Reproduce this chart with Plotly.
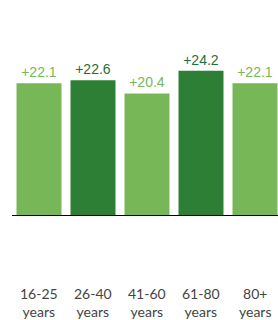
import plotly.graph_objects as go

categories = ["16-25", "26-40", "41-60", "61-80", "80+"]
tick_labels = ["16-25<br>years", "26-40<br>years", "41-60<br>years", "61-80<br>years", "80+<br>years"]
values = [22.1, 22.6, 20.4, 24.2, 22.1]
labels = ["+22.1", "+22.6", "+20.4", "+24.2", "+22.1"]

LIGHT = "#77b757"
DARK = "#2d7f35"
colors = [LIGHT, DARK, LIGHT, DARK, LIGHT]
text_colors = ["#77b757", "#1f6f3a", "#77b757", "#1f6f3a", "#77b757"]

fig = go.Figure(go.Bar(
    x=categories, y=values,
    marker=dict(color=colors, line=dict(width=0)),
    text=labels, textposition="outside",
    textfont=dict(family="Liberation Sans, Arial", size=14, color=text_colors),
    cliponaxis=False,
    hoverinfo="skip",
))

for c, t in zip(categories, tick_labels):
    fig.add_annotation(x=c, xref="x", y=0, yref="paper", yanchor="top",
                       yshift=-68, text=t, showarrow=False,
                       font=dict(family="Lato, Open Sans", size=14, color="#444444"))

fig.update_layout(
    width=278, height=320,
    margin=dict(l=12, r=0, t=20, b=105),
    paper_bgcolor="white", plot_bgcolor="white",
    bargap=0.167,
    showlegend=False,
    xaxis=dict(range=[-0.5, 4.426], showticklabels=False, showgrid=False,
               zeroline=False, showline=True, linecolor="black", linewidth=1,
               ticks=""),
    yaxis=dict(range=[0, 32.72], visible=False, showgrid=False, zeroline=False),
)

fig.write_html("out.html", config={"displayModeBar": False},
               post_script="document.body.style.margin='0';document.body.style.overflow='hidden';")
